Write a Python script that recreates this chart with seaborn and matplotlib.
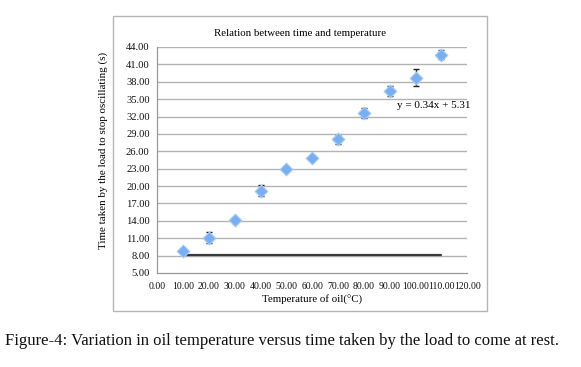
import matplotlib
matplotlib.use("Agg")
import matplotlib.pyplot as plt
import seaborn as sns
import pandas as pd
from matplotlib.patches import Rectangle

# data
temps = [10, 20, 30, 40, 50, 60, 70, 80, 90, 100, 110]
times = [8.8, 11.1, 14.1, 19.2, 23.0, 24.9, 28.1, 32.6, 36.4, 38.7, 42.7]
errs = [0.3, 0.9, 0.4, 0.9, 0.4, 0.4, 0.8, 0.8, 0.9, 1.5, 0.85]
flat_x = [10, 110]
flat_y = [8.1, 8.1]
x_ticks = [0, 10, 20, 30, 40, 50, 60, 70, 80, 90, 100, 110, 120]
y_ticks = [5, 8, 11, 14, 17, 20, 23, 26, 29, 32, 35, 38, 41, 44]
equation = "y = 0.34x + 5.31"

df = pd.DataFrame({"temp": temps, "time": times})

sns.set_style("white")
plt.rcParams['font.family'] = ['Liberation Serif', 'DejaVu Serif']

W, H = 581, 367
fig = plt.figure(figsize=(W / 100, H / 100), dpi=100)
ax = fig.add_axes([157.3 / W, 1 - 273 / H, (467.3 - 157.3) / W, (273 - 47) / H])

# chart border (outside the axes)
fig.patches.append(Rectangle((113 / W, 1 - 311 / H), (487 - 113) / W, (311 - 15.7) / H,
                             transform=fig.transFigure, fill=False,
                             edgecolor="#b5b5b5", linewidth=1.0, zorder=0))

for yt in y_ticks[1:]:
    ax.axhline(yt, color="#b3b3b3", linewidth=1.0, zorder=1)

ax.plot(flat_x, flat_y, color="#3a3a3a", linewidth=1.6, zorder=2)

ax.errorbar(temps, times, yerr=errs, fmt="none", ecolor="#222222",
            elinewidth=1.0, capsize=2.5, capthick=1.0, zorder=3)
sns.scatterplot(data=df, x="temp", y="time", marker="D", s=42,
                color="#79aef0", edgecolor="#a9cdf5", linewidth=0.8,
                ax=ax, zorder=4, legend=False)

ax.set_xlim(0, 120)
ax.set_ylim(5, 44)
ax.set_xticks(x_ticks)
ax.set_xticklabels([f"{v:.2f}" for v in x_ticks])
ax.set_yticks(y_ticks)
ax.set_yticklabels([f"{v:.2f}" for v in y_ticks])
ax.tick_params(axis="both", labelcolor="#111111", length=3.5,
               width=0.8, pad=2, color="#999999")
ax.tick_params(axis="y", labelsize=7.6)
ax.tick_params(axis="x", labelsize=7.0, pad=3)

for side in ["top", "right"]:
    ax.spines[side].set_visible(False)
for side in ["left", "bottom"]:
    ax.spines[side].set_color("#999999")
    ax.spines[side].set_linewidth(0.9)

ax.set_xlabel("Temperature of oil(°C)", fontsize=7.8, labelpad=3, color="#000000")
ax.set_ylabel("")
fig.text(103 / W, 1 - 150 / H, "Time taken by the load to stop oscillating (s)",
         rotation=90, ha="center", va="center", fontsize=7.9, color="#000000")

fig.text(300 / W, 1 - 33 / H, "Relation between time and temperature",
         ha="center", va="center", fontsize=7.8, color="#000000")
ax.text(397 / W, 1 - 105 / H, equation, transform=fig.transFigure,
        ha="left", va="center", fontsize=8, color="#000000", zorder=5)

fig.text(5 / W, 1 - 341 / H,
         "Figure-4: Variation in oil temperature versus time taken by the load to come at rest.",
         ha="left", va="center", fontsize=12, color="#111111")

fig.savefig("out.png", dpi=100)
